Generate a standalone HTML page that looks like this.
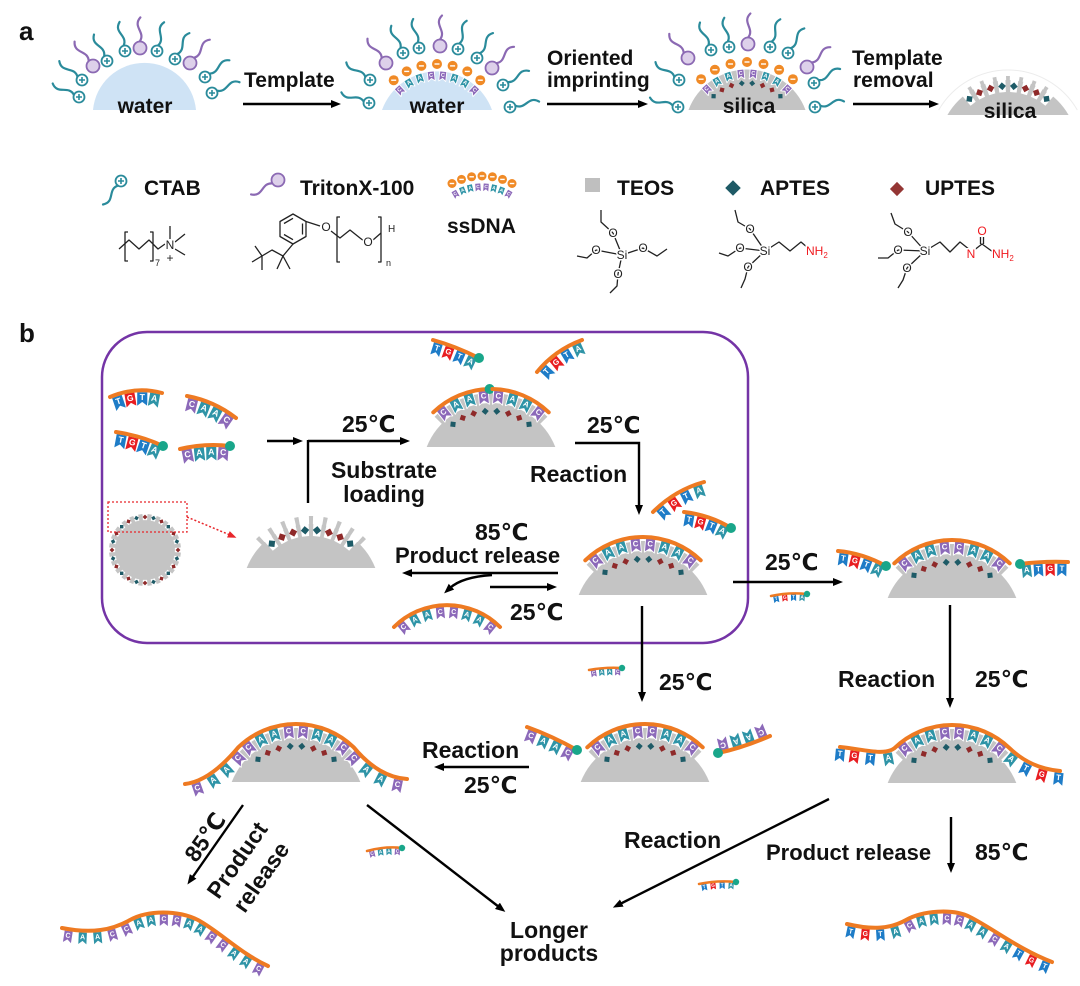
<!DOCTYPE html>
<html><head><meta charset="utf-8">
<style>
html,body{margin:0;padding:0;background:#fff;}
svg{display:block;}
.t{font-family:"Liberation Sans","DejaVu Sans",sans-serif;font-weight:bold;fill:#111;}
.ch{font-family:"Liberation Sans","DejaVu Sans",sans-serif;font-size:12px;fill:#222;stroke:#fff;stroke-width:3px;paint-order:stroke;}
.rd{fill:#f0191e;}
</style></head><body>
<svg id="s" width="1080" height="986" viewBox="0 0 1080 986" xmlns="http://www.w3.org/2000/svg">
<defs>
<marker id="ah" viewBox="0 0 10 8" markerWidth="10" markerHeight="8" refX="2" refY="4" orient="auto" markerUnits="userSpaceOnUse"><path d="M0,0L10,4L0,8z" fill="#000"/></marker>
<marker id="ahr" viewBox="0 0 10 8" markerWidth="9" markerHeight="7" refX="2" refY="4" orient="auto" markerUnits="userSpaceOnUse"><path d="M0,0L10,4L0,8z" fill="#e8262b"/></marker>
</defs>
<rect width="1080" height="986" fill="#fff"/>
<rect x="102" y="332" width="646" height="311" rx="45" fill="none" stroke="#7434a6" stroke-width="2.5"/>
<g id="dyn"></g>

<!-- chemical structures -->
<g stroke="#222" stroke-width="1.3" fill="none" stroke-linejoin="round">
<path d="M128,232H125V261H128M150,232H153V261H150"/>
<polyline points="119,249 129,240 139,249 149,240 158,249 165,244"/>
<path d="M170,239V226M175,242L185,234M175,249L185,255"/>
<path d="M252,262L262,256L255,246M262,256L262,270M262,256L272,250L283,256L277,269M283,256L290,269M283,256L293,244"/>
<polygon points="293,214 306,221.5 306,236.5 293,244 280,236.5 280,221.5"/>
<path d="M284,223.5L293,218.3M302.5,223.5V234.5M284,234.5L293,239.7"/>
<path d="M306,221.5L320,226"/>
<path d="M340,217H337V262H340"/>
<polyline points="331,231 340,238 350,230 360,238 364,241"/>
<path d="M373,240L381,233"/>
<path d="M378,217H381V262H378"/>
<path d="M622,255L613,233M622,255L596,250M622,255L643,248M622,255L618,274M613,233L601,222L601,210M596,250L587,258L577,256M643,248L657,256L667,249M618,274L617,286L610,293"/>
<path d="M765,251L750,229M765,251L740,248M765,251L748,267M750,229L738,222L735,210M740,248L728,256L719,253M748,267L745,279L741,288M765,251L779,242L790,251L801,242L808,248"/>
<path d="M925,251L908,232M925,251L898,250M925,251L907,268M908,232L895,224L891,213M898,250L888,258L878,258M907,268L903,280L898,288M925,251L940,242L950,252L960,242L970,250M973,251L982,244L993,252M980.5,244V237M983.5,244V237"/>
</g>
<text class="ch" x="170" y="249" text-anchor="middle">N</text>
<text class="ch" x="170" y="262" text-anchor="middle">+</text>
<text class="ch" x="155" y="266" style="font-size:9px">7</text>
<text class="ch" x="326" y="231" text-anchor="middle">O</text>
<text class="ch" x="368" y="246" text-anchor="middle">O</text>
<text class="ch" x="388" y="232" style="font-size:10px">H</text>
<text class="ch" x="386" y="266" style="font-size:9px">n</text>
<text class="ch" x="622" y="259" text-anchor="middle">Si</text>
<text class="ch" x="613" y="237" text-anchor="middle">O</text>
<text class="ch" x="596" y="254" text-anchor="middle">O</text>
<text class="ch" x="643" y="252" text-anchor="middle">O</text>
<text class="ch" x="618" y="278" text-anchor="middle">O</text>
<text class="ch" x="765" y="255" text-anchor="middle">Si</text>
<text class="ch" x="750" y="233" text-anchor="middle">O</text>
<text class="ch" x="740" y="252" text-anchor="middle">O</text>
<text class="ch" x="748" y="271" text-anchor="middle">O</text>
<text class="ch rd" x="806" y="255">NH<tspan style="font-size:8px" dy="3">2</tspan></text>
<text class="ch" x="925" y="255" text-anchor="middle">Si</text>
<text class="ch" x="908" y="236" text-anchor="middle">O</text>
<text class="ch" x="898" y="254" text-anchor="middle">O</text>
<text class="ch" x="907" y="272" text-anchor="middle">O</text>
<text class="ch rd" x="971" y="258" text-anchor="middle">N</text>
<text class="ch rd" x="982" y="235" text-anchor="middle">O</text>
<text class="ch rd" x="992" y="258">NH<tspan style="font-size:8px" dy="3">2</tspan></text>

<!-- arrows -->
<g stroke="#000" stroke-width="2.4" fill="none" marker-end="url(#ah)">
<line x1="243" y1="104" x2="333" y2="104"/>
<line x1="547" y1="104" x2="640" y2="104"/>
<line x1="853" y1="104" x2="931" y2="104"/>
<line x1="267" y1="441" x2="295" y2="441"/>
<line x1="308" y1="441" x2="402" y2="441"/>
<path d="M575,443H639V507"/>
<line x1="558" y1="573" x2="410" y2="573"/>
<path d="M492,575Q462,577 450,588"/>
<line x1="490" y1="587" x2="549" y2="587"/>
<line x1="733" y1="582" x2="835" y2="582"/>
<line x1="950" y1="605" x2="950" y2="700"/>
<line x1="642" y1="606" x2="642" y2="694"/>
<line x1="529" y1="767" x2="442" y2="767"/>
<line x1="951" y1="817" x2="951" y2="865"/>
<line x1="829" y1="799" x2="620" y2="904"/>
<line x1="367" y1="805" x2="499" y2="907"/>
<line x1="243" y1="805" x2="192" y2="878"/>
</g>
<line x1="308" y1="440" x2="308" y2="503" stroke="#000" stroke-width="2.4"/>
<rect x="108" y="502" width="79" height="30" fill="none" stroke="#e8262b" stroke-width="1.3" stroke-dasharray="2,2"/>
<line x1="187" y1="517" x2="230" y2="535" stroke="#e8262b" stroke-width="1.5" stroke-dasharray="2,2" marker-end="url(#ahr)"/>

<!-- text -->
<text class="t" x="19" y="40" font-size="26">a</text>
<text class="t" x="145" y="113" font-size="21" text-anchor="middle">water</text>
<text class="t" x="244" y="87" font-size="21">Template</text>
<text class="t" x="437" y="113" font-size="21" text-anchor="middle">water</text>
<text class="t" x="547" y="65" font-size="21">Oriented</text>
<text class="t" x="547" y="87" font-size="21">imprinting</text>
<text class="t" x="749" y="113" font-size="21" text-anchor="middle">silica</text>
<text class="t" x="852" y="65" font-size="21">Template</text>
<text class="t" x="853" y="87" font-size="21">removal</text>
<text class="t" x="1010" y="118" font-size="21" text-anchor="middle">silica</text>
<text class="t" x="144" y="195" font-size="21">CTAB</text>
<text class="t" x="300" y="195" font-size="21">TritonX-100</text>
<text class="t" x="447" y="233" font-size="21">ssDNA</text>
<text class="t" x="617" y="195" font-size="21">TEOS</text>
<text class="t" x="760" y="195" font-size="21">APTES</text>
<text class="t" x="925" y="195" font-size="21">UPTES</text>

<text class="t" x="19" y="342" font-size="26">b</text>
<text class="t" x="342" y="432" font-size="23">25℃</text>
<text class="t" x="384" y="478" font-size="23" text-anchor="middle">Substrate</text>
<text class="t" x="384" y="502" font-size="23" text-anchor="middle">loading</text>
<text class="t" x="587" y="433" font-size="23">25℃</text>
<text class="t" x="530" y="482" font-size="23">Reaction</text>
<text class="t" x="475" y="540" font-size="23">85℃</text>
<text class="t" x="395" y="563" font-size="22">Product release</text>
<text class="t" x="510" y="620" font-size="23">25℃</text>
<text class="t" x="765" y="570" font-size="23">25℃</text>
<text class="t" x="838" y="687" font-size="23">Reaction</text>
<text class="t" x="975" y="687" font-size="23">25℃</text>
<text class="t" x="659" y="690" font-size="23">25℃</text>
<text class="t" x="422" y="758" font-size="23">Reaction</text>
<text class="t" x="464" y="793" font-size="23">25℃</text>
<text class="t" x="624" y="848" font-size="23">Reaction</text>
<text class="t" x="766" y="860" font-size="22">Product release</text>
<text class="t" x="975" y="860" font-size="23">85℃</text>
<text class="t" x="549" y="938" font-size="23" text-anchor="middle">Longer</text>
<text class="t" x="549" y="961" font-size="23" text-anchor="middle">products</text>
<text class="t" font-size="23" text-anchor="middle" transform="translate(205,837) rotate(-55)" y="8">85℃</text>
<text class="t" font-size="23" text-anchor="middle" transform="translate(237,860) rotate(-55)" y="8">Product</text>
<text class="t" font-size="23" text-anchor="middle" transform="translate(261,877) rotate(-55)" y="8">release</text>
</svg>
<script>
(function(){
var NS='http://www.w3.org/2000/svg';
var dyn=document.getElementById('dyn');
var D2R=Math.PI/180,R2D=180/Math.PI;
var COL={C:'#8c69b9',A:'#2f94a7',T:'#1e7cc7',G:'#e81e22'};
var OR='#ee7a22',GREEN='#19a68a',GRAY='#c4c4c4',TEAL='#1e5b67',RED='#8f2a2a',CT='#2a8b9b',PU='#8b69b3';
function E(tag,a,p){var e=document.createElementNS(NS,tag);for(var k in a)e.setAttribute(k,a[k]);(p||dyn).appendChild(e);return e;}
function P(cx,cy,r,a){return [cx+r*Math.cos(a*D2R),cy+r*Math.sin(a*D2R)];}
function f1(v){return (+v).toFixed(1);}
function flag(x,y,ang,L,w,h,p){
 var g=E('g',{transform:'translate('+f1(x)+','+f1(y)+') rotate('+f1(ang-90)+')'},p);
 var hw=w/2,n=h*0.28;
 E('path',{d:'M'+(-hw)+',0H'+hw+'V'+h+'L0,'+f1(h-n)+'L'+(-hw)+','+h+'Z',fill:COL[L],stroke:'#fff','stroke-width':0.9,'stroke-linejoin':'round'},g);
 var t=E('text',{x:0,y:f1(h*0.55),'font-size':f1(w*0.78),fill:'#fff','text-anchor':'middle','font-family':'Liberation Sans,Arial,sans-serif','font-weight':'bold'},g);t.textContent=L;
}
function arcD(cx,cy,r,a0,a1){var p0=P(cx,cy,r,a0),p1=P(cx,cy,r,a1);return 'M'+f1(p0[0])+','+f1(p0[1])+'A'+r+','+r+' 0 0 1 '+f1(p1[0])+','+f1(p1[1]);}
function strand(d,seq,o){o=o||{};
 var sw=o.sw||4,w=o.w||10,h=o.h||14,side=o.side||1;
 var g=E('g',{});
 var p=E('path',{d:d,fill:'none',stroke:OR,'stroke-width':sw,'stroke-linecap':'round'});
 var Lt=p.getTotalLength(),n=seq.length,step=o.step||Lt/n;
 var s0=(o.s0!=null)?o.s0:(Lt-step*(n-1))/2;
 for(var i=0;i<n;i++){
  var s=Math.max(0.6,Math.min(Lt-0.6,s0+i*step));
  var a=p.getPointAtLength(s-0.5),b=p.getPointAtLength(s+0.5),c=p.getPointAtLength(s);
  var tx=b.x-a.x,ty=b.y-a.y,m=Math.hypot(tx,ty)||1;tx/=m;ty/=m;
  var nx=-ty*side,ny=tx*side,off=sw/2-0.6;
  flag(c.x+nx*off,c.y+ny*off,Math.atan2(ny,nx)*R2D,seq[i],w,h,g);
 }
 dyn.appendChild(p);
 if(o.dot){var q=p.getPointAtLength(o.dot=='end'?Lt:0);E('circle',{cx:f1(q.x),cy:f1(q.y),r:o.dr||5,fill:GREEN});}
 return p;
}
function wedge(cx,cy,a,da,r1,r2,fill){var pts=[P(cx,cy,r1,a-da),P(cx,cy,r1,a+da),P(cx,cy,r2,a+da),P(cx,cy,r2,a-da)].map(function(q){return f1(q[0])+','+f1(q[1]);}).join(' ');E('polygon',{points:pts,fill:fill});}
function diamond(x,y,s,fill,rot){E('rect',{x:f1(x-s/2),y:f1(y-s/2),width:s,height:s,fill:fill,transform:'rotate('+f1(rot)+' '+f1(x)+' '+f1(y)+')'});}
function dome(cx,by,o){o=o||{};
 var cy=by+25,R=69,hw=Math.sqrt(R*R-625),i,a,q;
 E('path',{d:'M'+f1(cx-hw)+','+by+'A'+R+','+R+' 0 0 1 '+f1(cx+hw)+','+by+'Z',fill:GRAY});
 var seq=o.seq||'CAACCAAC';
 if(o.empty)for(i=0;i<8;i++){a=-128.5+11*i;wedge(cx,cy,a,3.6,57,74,'#fff');}
 for(i=0;i<=8;i++){wedge(cx,cy,-134+11*i,1.6,62,o.empty?77:79,GRAY);}
 for(i=0;i<8;i++){a=-128.5+11*i;q=P(cx,cy,o.empty?63:61,a);diamond(q[0],q[1],o.empty?6:5,seq[i]=='C'?TEAL:RED,a+45);}
 if(o.orange) strand(arcD(cx,cy,83,-134,-46),seq,{step:15.93,s0:7.97});
}
function wavy(t1,rest,seq,o){var tmp=E('path',{d:t1});var L1=tmp.getTotalLength();tmp.parentNode.removeChild(tmp);
 var oo={step:15.93,s0:L1+7.97-4*15.93};o=o||{};for(var k in o)oo[k]=o[k];return strand(t1+rest,seq,oo);}
function surf(x,y,cx,cy,t){
 var a=Math.atan2(y-cy,x-cx),ux=Math.cos(a),uy=Math.sin(a),px=-uy,py=ux;
 var col=t=='c'?CT:PU,r=t=='c'?5.5:6.5;
 var sx=x+ux*r,sy=y+uy*r,L=24;
 var d='M'+f1(sx)+','+f1(sy)+' C'+f1(sx+ux*9+px*7)+','+f1(sy+uy*9+py*7)+' '+f1(sx+ux*15-px*7)+','+f1(sy+uy*15-py*7)+' '+f1(sx+ux*L+px*2)+','+f1(sy+uy*L+py*2);
 E('path',{d:d,fill:'none',stroke:col,'stroke-width':2.2,'stroke-linecap':'round'});
 if(t=='c'){E('circle',{cx:x,cy:y,r:r,fill:'#fff',stroke:col,'stroke-width':1.8});
  E('path',{d:'M'+(x-3)+','+y+'H'+(x+3)+'M'+x+','+(y-3)+'V'+(y+3),stroke:col,'stroke-width':1.6});}
 else E('circle',{cx:x,cy:y,r:r,fill:'#ddd0ea',stroke:col,'stroke-width':1.8});
}
function tmpl(cx,cy,rc,cr,a0,a1,rf,fw,fh,fa0,fa1,diamR){
 var seq='CAACCAAC',i,a,q,d;
 for(i=0;i<8;i++){a=fa0+(fa1-fa0)*i/7;q=P(cx,cy,rf,a);flag(q[0],q[1],a+180,seq[i],fw,fh);
  if(diamR){d=P(cx,cy,diamR,a);diamond(d[0],d[1],4.2,seq[i]=='C'?TEAL:RED,a+45);}}
 for(i=0;i<7;i++){a=a0+(a1-a0)*i/6;q=P(cx,cy,rc,a);
  E('circle',{cx:f1(q[0]),cy:f1(q[1]),r:cr,fill:'#f08a26'});
  E('path',{d:'M'+f1(q[0]-cr*0.5)+','+f1(q[1])+'h'+f1(cr),stroke:'#fff','stroke-width':1.4});}
}
function heads(list,cx,cy){list.forEach(function(h){surf(h[0],h[1],cx,cy,h[2]);});}

/* ---------- part a ---------- */
E('path',{d:'M93,110A51.7,51.7 0 0 1 196,110Z',fill:'#cfe3f5'});
heads([[79,97,'c'],[82,80,'c'],[93,66,'p'],[107,61,'c'],[125,51,'c'],[140,48,'p'],[157,51,'c'],[175,59,'c'],[190,63,'p'],[205,77,'c'],[212,93,'c']],144,125);

E('path',{d:'M382,110A58.5,58.5 0 0 1 492,110Z',fill:'#cfe3f5'});
tmpl(437,130,66,5,-131,-49,59,7,10,-133,-47,0);
heads([[370,80,'c'],[369,103,'c'],[386,63,'p'],[403,53,'c'],[419,48,'c'],[440,46,'p'],[458,49,'c'],[477,58,'c'],[492,68,'p'],[503,85,'c'],[510,107,'c']],440,125);

E('path',{d:'M688.5,110A62.5,62.5 0 0 1 805.5,110Z',fill:GRAY});
tmpl(747,132,70,5,-131,-49,63,7,10,-133,-47,49);
heads([[679,80,'c'],[678,107,'c'],[688,58,'p'],[711,50,'c'],[729,47,'c'],[748,44,'p'],[770,47,'c'],[788,53,'c'],[807,67,'p'],[814,83,'c'],[815,107,'c']],747,125);

(function(){var cx=1008,cy=150,R=70,by=115,hw=Math.sqrt(R*R-35*35),i,a,q,seq='CAACCAAC';
 E('path',{d:arcD(cx,cy,80,-150,-30),fill:'none',stroke:'#ececec','stroke-width':1});
 E('path',{d:'M'+f1(cx-hw)+','+by+'A'+R+','+R+' 0 0 1 '+f1(cx+hw)+','+by+'Z',fill:GRAY});
 for(i=0;i<8;i++){a=-127+(74/7)*i;wedge(cx,cy,a,3.2,58,74,'#fff');}
 for(i=1;i<=7;i++){a=-132.3+10.57*i;wedge(cx,cy,a,1.5,62,74,GRAY);}
 for(i=0;i<8;i++){a=-127+(74/7)*i;q=P(cx,cy,64,a);diamond(q[0],q[1],5.5,seq[i]=='C'?TEAL:RED,a+45);}
})();

/* legend icons */
surf(121,181,121+0.55*10,181-0.83*10,'c');
surf(278,180,278+0.85*10,180-0.53*10,'p');
tmpl(482,240,64,4.5,-118,-62,57,6,9,-120,-60,0);
E('rect',{x:585,y:178,width:15,height:14,fill:'#bfbfbf'});
diamond(733,188,11,'#1e5a66',45);
diamond(897,189,10,'#943634',45);

/* ---------- part b ---------- */
var tiny={w:6,h:8,sw:2.5,dr:3.2,dot:'end'};
strand('M110,397 Q136,386 162,393','TGTA',{w:11,h:15});
strand('M187,396 Q214,401 236,418','CAAC',{w:11,h:15});
strand('M116,432 Q142,436 163,446','TGTA',{w:11,h:15,dot:'end'});
strand('M180,449 Q205,443 230,446','CAAC',{w:11,h:15,dot:'end'});

dome(491,447);
strand(arcD(491,472,83,-134,-91),'CAAC',{step:15.93,s0:7.97,dot:'end'});
strand(arcD(491,472,83,-89,-46),'CAAC',{step:15.93,s0:6.52});
strand('M433,340 Q455,346 479,358','TGTA',{dot:'end'});
strand('M537,372 Q555,350 582,340','TGTA');

E('circle',{cx:145,cy:550,r:36,fill:GRAY});
for(var i=0;i<24;i++){var a=i*15;wedge(145,550,a,4,30,38,'#fff');var q=P(145,550,33,a);diamond(q[0],q[1],3.4,i%2?TEAL:RED,a+45);}

dome(311,568,{empty:true});

dome(643,595,{orange:true});
strand('M653,512 Q675,490 704,482','TGTA');
strand('M684,512 Q710,515 731,528','TGTA',{dot:'end'});
strand(arcD(447,680,75,-135,-45),'CAACCAAC',{w:9,h:13});

strand('M771,596 Q789,592 807,594','TGTA',tiny);
dome(952,598,{orange:true});
strand('M838,551 Q862,553 886,566','TGTA',{dot:'end'});
strand('M1020,564 Q1044,561 1068,562','ATGT',{dot:'start'});

strand('M589,670 Q605,667 622,668','CAAC',tiny);
dome(645,782,{orange:true});
strand('M527,727 Q552,736 577,750','CAAC',{dot:'end'});
strand('M718,753 Q742,748 770,736','CAAC',{dot:'start',side:-1});

dome(296,782);
wavy('M185,784 C203,782 221,768 238.3,747.3','A83,83 0 0 1 353.7,747.3 C371,768 389,778 407,779','CAACCAACCAACCAAC');

dome(952,783);
wavy('M840,747 C862,749 884,756 894.3,748.3','A83,83 0 0 1 1009.7,748.3 C1024,762 1040,769 1060,771','TGTACAACCAACATGT');

strand('M367,851 Q385,846 402,848','CAAC',tiny);
strand('M699,884 Q718,880 736,882','TGTA',tiny);

strand('M62,928 C92,934 112,930 130,920 C148,910 178,910 198,920 C220,932 240,953 268,966','CAACCAACCAACCAAC',{step:14,w:9,h:13});
strand('M847,924 C872,930 890,929 906,920 C922,911 952,908 970,917 C992,928 1020,950 1052,962','TGTACAACCAACATGT',{step:14,w:9,h:13});
})();
</script>
</body></html>
